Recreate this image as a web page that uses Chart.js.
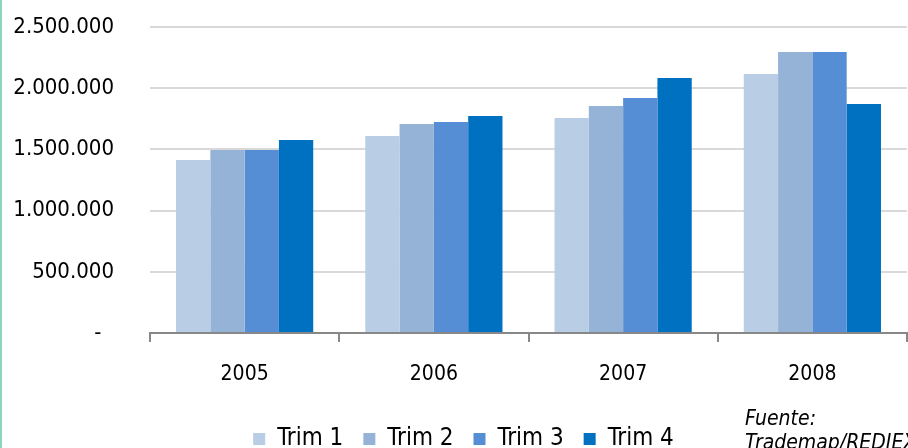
<!DOCTYPE html>
<html>
<head>
<meta charset="utf-8">
<script src="https://cdn.jsdelivr.net/npm/chart.js@4"></script>
<style>
  html, body { margin: 0; padding: 0; background: #fff; overflow: hidden; }
  #wrap { position: relative; width: 908px; height: 448px; overflow: hidden; }
  #edge { position: absolute; left: 0; top: 0; width: 2px; height: 448px; background: #8fd4bb; }
  #source {
    position: absolute; left: 745px; top: 406px;
    font-family: 'DejaVu Sans Condensed', 'DejaVu Sans', sans-serif;
    font-style: italic; font-size: 21px; line-height: 24px; color: #000;
    white-space: nowrap;
  }
</style>
</head>
<body>
<div id="wrap">
  <canvas id="chart" width="908" height="458"></canvas>
  <div id="edge"></div>
  <div id="source">Fuente:<br>Trademap/REDIEX</div>
</div>
<script>
const years = ['2005', '2006', '2007', '2008'];
const seriesNames = ['Trim 1', 'Trim 2', 'Trim 3', 'Trim 4'];
const trim1 = [1413000, 1609000, 1756000, 2116000];
const trim2 = [1495000, 1707000, 1855000, 2296000];
const trim3 = [1495000, 1724000, 1920000, 2296000];
const trim4 = [1577000, 1773000, 2083000, 1871000];
const seriesColors = ['#b9cde5', '#95b3d7', '#558ed5', '#0070c0'];

const FONT = "'DejaVu Sans Condensed', 'DejaVu Sans', sans-serif";

// 2500000 -> "2.500.000", 0 -> "-"
const fmt = (v) => {
  if (v === 0) return '-  ';
  return String(v).replace(/\B(?=(\d{3})+(?!\d))/g, '.');
};

// nudge the legend a little right and down, like the original
const legendNudge = {
  id: 'legendNudge',
  afterLayout(chart) {
    const lg = chart.legend;
    if (!lg) return;
    lg.left += 10; lg.right += 10;
    lg.top += 3; lg.bottom += 3;
  },
};

const ctx = document.getElementById('chart').getContext('2d');
new Chart(ctx, {
  type: 'bar',
  data: {
    labels: years,
    datasets: [trim1, trim2, trim3, trim4].map((values, i) => ({
      label: seriesNames[i],
      data: values,
      backgroundColor: seriesColors[i],
      borderWidth: 0,
      categoryPercentage: 0.725,
      barPercentage: 1.0,
    })),
  },
  options: {
    responsive: false,
    animation: false,
    layout: { padding: { top: 27, right: 1, left: 0, bottom: 0 } },
    scales: {
      x: {
        grid: {
          display: true,
          drawOnChartArea: false,
          drawTicks: true,
          tickLength: 9,
          color: '#888888',
          lineWidth: 2,
        },
        border: { display: true, color: '#888888', width: 2 },
        ticks: { color: '#000', font: { family: FONT, size: 21 }, padding: 20 },
        afterFit: (scale) => { scale.height = 71; },
      },
      y: {
        min: 0,
        max: 2500000,
        // invisible tick marks give the gap between labels and plot
        grid: { color: '#d9d9d9', lineWidth: 2, drawTicks: true, tickLength: 36, tickColor: 'rgba(0,0,0,0)' },
        border: { display: false },
        ticks: {
          stepSize: 500000,
          color: '#000',
          font: { family: FONT, size: 22 },
          padding: 0,
          callback: (v) => fmt(v),
        },
        afterFit: (scale) => { scale.width = 150; },
      },
    },
    plugins: {
      legend: {
        position: 'bottom',
        labels: {
          boxWidth: 12,
          boxHeight: 12,
          padding: 20,
          color: '#000',
          font: { family: FONT, size: 24 },
        },
      },
      tooltip: { enabled: false },
    },
  },
  plugins: [legendNudge],
});
</script>
</body>
</html>
